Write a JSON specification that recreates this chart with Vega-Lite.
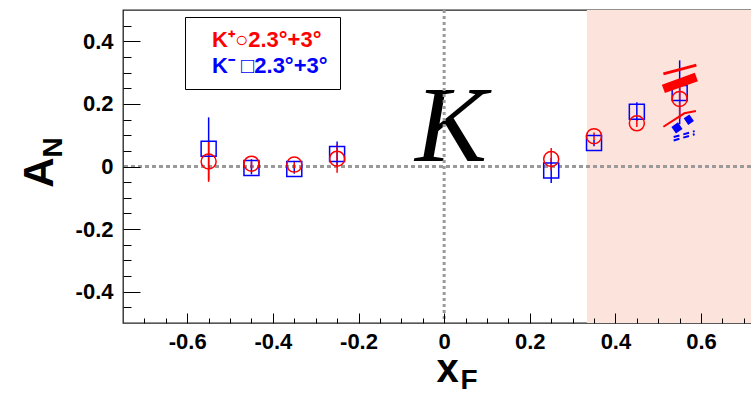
{
  "$schema": "https://vega.github.io/schema/vega-lite/v6.json",
  "width": 628,
  "height": 313,
  "autosize": {"type": "none"},
  "padding": {"left": 123, "top": 10, "right": 0, "bottom": 70},
  "background": "#ffffff",
  "config": {
    "font": "Liberation Sans",
    "view": {"stroke": "#222222", "strokeWidth": 1.3},
    "axis": {
      "labelFont": "Liberation Sans",
      "labelFontWeight": "bold",
      "labelFontSize": 22,
      "labelColor": "#000000",
      "tickColor": "#000000",
      "tickWidth": 1,
      "ticks": true,
      "titleColor": "#000000",
      "titleFont": "Liberation Sans",
      "titleFontWeight": "bold",
      "grid": false,
      "domain": false,
      "labelFlush": false,
      "labelOverlap": false
    },
    "legend": {
      "labelFont": "Liberation Sans",
      "labelFontWeight": "bold",
      "labelFontSize": 22,
      "labelLimit": 400,
      "labelOffset": -7,
      "symbolSize": 0,
      "symbolOpacity": 0,
      "symbolStrokeWidth": 0,
      "padding": 12,
      "rowPadding": 4,
      "strokeColor": "#000000",
      "fillColor": "#ffffff"
    }
  },
  "datasets": {
    "points": [
      {"xF": -0.55, "AN": 0.057, "lo": -0.043, "hi": 0.157, "series": "K-"},
      {"xF": -0.45, "AN": -0.005, "lo": -0.025, "hi": 0.015, "series": "K-"},
      {"xF": -0.35, "AN": -0.008, "lo": -0.023, "hi": 0.007, "series": "K-"},
      {"xF": -0.25, "AN": 0.040, "lo": 0.000, "hi": 0.080, "series": "K-"},
      {"xF": 0.25, "AN": -0.013, "lo": -0.053, "hi": 0.027, "series": "K-"},
      {"xF": 0.35, "AN": 0.075, "lo": 0.065, "hi": 0.085, "series": "K-"},
      {"xF": 0.45, "AN": 0.175, "lo": 0.145, "hi": 0.205, "series": "K-"},
      {"xF": 0.55, "AN": 0.235, "lo": 0.135, "hi": 0.339, "series": "K-"},
      {"xF": -0.55, "AN": 0.016, "lo": -0.049, "hi": 0.081, "series": "K+"},
      {"xF": -0.45, "AN": 0.009, "lo": -0.006, "hi": 0.024, "series": "K+"},
      {"xF": -0.35, "AN": 0.006, "lo": -0.006, "hi": 0.018, "series": "K+"},
      {"xF": -0.25, "AN": 0.025, "lo": -0.020, "hi": 0.070, "series": "K+"},
      {"xF": 0.25, "AN": 0.024, "lo": -0.011, "hi": 0.059, "series": "K+"},
      {"xF": 0.35, "AN": 0.097, "lo": 0.085, "hi": 0.109, "series": "K+"},
      {"xF": 0.45, "AN": 0.138, "lo": 0.126, "hi": 0.150, "series": "K+"},
      {"xF": 0.55, "AN": 0.216, "lo": 0.152, "hi": 0.280, "series": "K+"}
    ]
  },
  "layer": [
    {
      "data": {"values": [{"x1": 0.3333, "x2": 0.75, "y1": -0.5, "y2": 0.5}]},
      "mark": {"type": "rect", "color": "#fce3db", "clip": true},
      "encoding": {
        "x": {
          "field": "x1", "type": "quantitative",
          "scale": {"domain": [-0.75, 0.7166], "nice": false, "zero": false},
          "axis": {
            "orient": "bottom",
            "values": [-0.6, -0.4, -0.2, 0, 0.2, 0.4, 0.6],
            "labelExpr": "'' + datum.value",
            "offset": -10,
            "tickSize": 10,
            "labelPadding": 8,
            "title": "x",
            "titleFontSize": 40,
            "titleX": 324,
            "titleY": 68,
            "titleAlign": "center",
            "titleBaseline": "alphabetic",
            "titleAngle": 0,
            "zindex": 1
          }
        },
        "x2": {"field": "x2"},
        "y": {
          "field": "y1", "type": "quantitative",
          "scale": {"domain": [-0.5, 0.5], "nice": false, "zero": false},
          "axis": {
            "orient": "left",
            "values": [-0.4, -0.2, 0, 0.2, 0.4],
            "labelExpr": "'' + datum.value",
            "offset": -17,
            "tickSize": 17,
            "labelPadding": 10,
            "title": "A",
            "titleFontSize": 42,
            "titleAngle": 270,
            "titleX": -88,
            "titleY": 162,
            "titleAlign": "center",
            "titleBaseline": "alphabetic",
            "zindex": 1
          }
        },
        "y2": {"field": "y2"}
      }
    },
    {
      "data": {"values": [{"label": "K", "xpos": 0.016, "ypos": 0.018}]},
      "mark": {"type": "text", "font": "Liberation Serif", "fontStyle": "italic", "fontSize": 108, "align": "center", "baseline": "alphabetic", "color": "#000000"},
      "encoding": {
        "x": {"field": "xpos", "type": "quantitative", "axis": null},
        "y": {"field": "ypos", "type": "quantitative", "axis": null},
        "text": {"field": "label"}
      }
    },
    {
      "data": {"values": [{"zero": 0}]},
      "mark": {"type": "rule", "color": "#9a9a9a", "strokeWidth": 3, "strokeDash": [4, 3]},
      "encoding": {"y": {"field": "zero", "type": "quantitative", "axis": null}}
    },
    {
      "data": {"values": [{"zero": 0}]},
      "mark": {"type": "rule", "color": "#9a9a9a", "strokeWidth": 3, "strokeDash": [3, 3]},
      "encoding": {"x": {"field": "zero", "type": "quantitative", "axis": null}}
    },
    {
      "data": {"name": "points"},
      "mark": {"type": "rule", "strokeWidth": 1.5},
      "encoding": {
        "x": {
          "field": "xF", "type": "quantitative",
          "axis": {
            "orient": "bottom",
            "values": [-0.7, -0.65, -0.55, -0.5, -0.45, -0.35, -0.3, -0.25, -0.15, -0.1, -0.05, 0.05, 0.1, 0.15, 0.25, 0.3, 0.35, 0.45, 0.5, 0.55, 0.65, 0.7],
            "labels": false,
            "offset": -5,
            "tickSize": 5,
            "title": "F",
            "titleFontSize": 28,
            "titleX": 345.5,
            "titleY": 70,
            "titleAlign": "center",
            "titleBaseline": "alphabetic",
            "titleAngle": 0,
            "zindex": 1
          }
        },
        "y": {
          "field": "lo", "type": "quantitative",
          "axis": {
            "orient": "left",
            "values": [-0.45, -0.35, -0.3, -0.25, -0.15, -0.1, -0.05, 0.05, 0.1, 0.15, 0.25, 0.3, 0.35, 0.45],
            "labels": false,
            "offset": -8,
            "tickSize": 8,
            "title": "N",
            "titleFontSize": 28,
            "titleAngle": 270,
            "titleX": -70,
            "titleY": 137,
            "titleAlign": "center",
            "titleBaseline": "alphabetic",
            "zindex": 1
          }
        },
        "y2": {"field": "hi"},
        "color": {
          "field": "series", "type": "nominal",
          "scale": {"domain": ["K+", "K-"], "range": ["#ff0000", "#0000ff"]},
          "legend": {
            "title": null,
            "orient": "none",
            "legendX": 62,
            "legendY": 7,
            "direction": "vertical",
            "labelFontSize": 22,
            "labelOffset": -7,
            "labelExpr": "datum.value == 'K+' ? 'K⁺○2.3°+3°\u2002\u2002\u2002\u00a0' : 'K⁻ □2.3°+3°\u2002\u2002\u2002\u00a0'",
            "encode": {
              "labels": {"update": {"fill": {"signal": "datum.value == 'K+' ? '#ff0000' : '#0000ff'"}, "fontSize": {"value": 22}}},
              "symbols": {"update": {"size": {"value": 0}, "opacity": {"value": 0}, "strokeWidth": {"value": 0}}}
            }
          }
        }
      }
    },
    {
      "data": {"name": "points"},
      "mark": {"type": "point", "filled": false, "strokeWidth": 1.5, "size": 225, "opacity": 1},
      "encoding": {
        "x": {"field": "xF", "type": "quantitative", "axis": null},
        "y": {"field": "AN", "type": "quantitative", "axis": null},
        "color": {
          "field": "series", "type": "nominal",
          "scale": {"domain": ["K+", "K-"], "range": ["#ff0000", "#0000ff"]},
          "legend": {
            "title": null,
            "orient": "none",
            "legendX": 62,
            "legendY": 7,
            "direction": "vertical",
            "labelFontSize": 22,
            "labelOffset": -7,
            "labelExpr": "datum.value == 'K+' ? 'K⁺○2.3°+3°\u2002\u2002\u2002\u00a0' : 'K⁻ □2.3°+3°\u2002\u2002\u2002\u00a0'",
            "encode": {
              "labels": {"update": {"fill": {"signal": "datum.value == 'K+' ? '#ff0000' : '#0000ff'"}, "fontSize": {"value": 22}}},
              "symbols": {"update": {"size": {"value": 0}, "opacity": {"value": 0}, "strokeWidth": {"value": 0}}}
            }
          }
        },
        "shape": {"field": "series", "type": "nominal", "scale": {"domain": ["K+", "K-"], "range": ["circle", "square"]}, "legend": null}
      }
    },
    {
      "data": {"values": [{"cx": 0.512, "cy": 0.296}, {"cx": 0.589, "cy": 0.324}]},
      "mark": {"type": "line", "color": "#ff0000", "strokeWidth": 3},
      "encoding": {"x": {"field": "cx", "type": "quantitative", "axis": null}, "y": {"field": "cy", "type": "quantitative", "axis": null}}
    },
    {
      "data": {"values": [{"cx": 0.512, "cy": 0.248}, {"cx": 0.589, "cy": 0.286}]},
      "mark": {"type": "line", "color": "#ff0000", "strokeWidth": 9},
      "encoding": {"x": {"field": "cx", "type": "quantitative", "axis": null}, "y": {"field": "cy", "type": "quantitative", "axis": null}}
    },
    {
      "data": {"values": [{"cx": 0.512, "cy": 0.127}, {"cx": 0.561, "cy": 0.170}, {"cx": 0.588, "cy": 0.177}]},
      "mark": {"type": "line", "color": "#ff0000", "strokeWidth": 2},
      "encoding": {"x": {"field": "cx", "type": "quantitative", "axis": null}, "y": {"field": "cy", "type": "quantitative", "axis": null}}
    },
    {
      "data": {"values": [{"cx": 0.536, "cy": 0.116}, {"cx": 0.578, "cy": 0.156}]},
      "mark": {"type": "line", "color": "#0000ff", "strokeWidth": 8, "strokeDash": [8, 7]},
      "encoding": {"x": {"field": "cx", "type": "quantitative", "axis": null}, "y": {"field": "cy", "type": "quantitative", "axis": null}}
    },
    {
      "data": {"values": [{"cx": 0.536, "cy": 0.094}, {"cx": 0.585, "cy": 0.113}]},
      "mark": {"type": "line", "color": "#0000ff", "strokeWidth": 2, "strokeDash": [6, 4]},
      "encoding": {"x": {"field": "cx", "type": "quantitative", "axis": null}, "y": {"field": "cy", "type": "quantitative", "axis": null}}
    },
    {
      "data": {"values": [{"cx": 0.536, "cy": 0.083}, {"cx": 0.585, "cy": 0.103}]},
      "mark": {"type": "line", "color": "#0000ff", "strokeWidth": 2, "strokeDash": [6, 4]},
      "encoding": {"x": {"field": "cx", "type": "quantitative", "axis": null}, "y": {"field": "cy", "type": "quantitative", "axis": null}}
    }
  ],
  "resolve": {"axis": {"x": "independent", "y": "independent"}}
}
